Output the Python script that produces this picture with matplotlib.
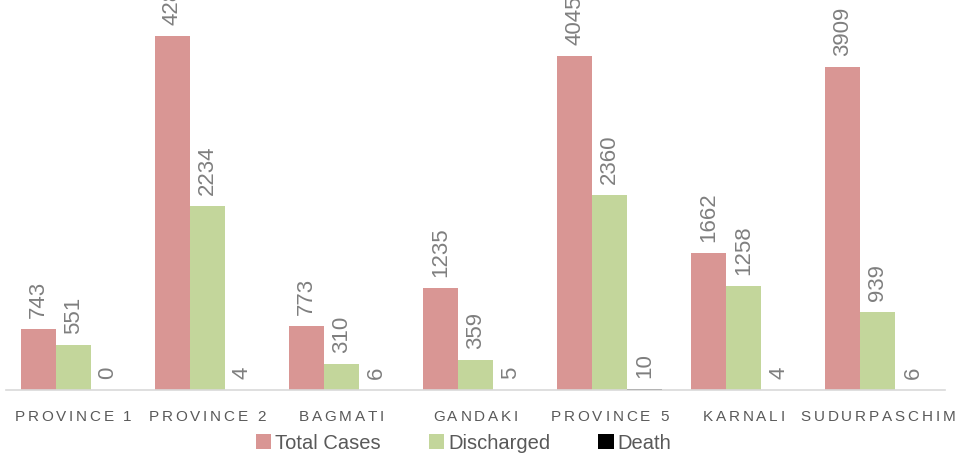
import numpy as np
import matplotlib
matplotlib.use("Agg")
import matplotlib.pyplot as plt
from matplotlib.font_manager import FontProperties

provinces = ["PROVINCE 1", "PROVINCE 2", "BAGMATI", "GANDAKI", "PROVINCE 5", "KARNALI", "SUDURPASCHIM"]
total_cases = [743, 4287, 773, 1235, 4045, 1662, 3909]
discharged = [551, 2234, 310, 359, 2360, 1258, 939]
death = [0, 4, 6, 5, 10, 4, 6]

series = [("Total Cases", total_cases, "#D99694"), ("Discharged", discharged, "#C3D69B"), ("Death", death, "#000000")]

plt.rcParams["font.family"] = ["Liberation Sans", "DejaVu Sans"]

fig = plt.figure(figsize=(9.56, 4.56), dpi=100)
ax = fig.add_axes([6 / 956, 1 - 391 / 456, 939 / 956, 391 / 456])

x = np.arange(len(provinces))
w = 0.261
for i, (name, vals, col) in enumerate(series):
    pos = x + (i - 1) * w
    ax.bar(pos, vals, w, color=col, label=name)
    for px, v in zip(pos, vals):
        ax.annotate(str(v), (px, v), xytext=(0, 12), textcoords="offset pixels",
                    rotation=90, ha="center", va="bottom", fontsize=16, color="#7F7F7F",
                    annotation_clip=False)

ax.set_xlim(-0.5, len(provinces) - 0.5)
ax.set_ylim(0, 4735)
for s in ["top", "right", "left"]:
    ax.spines[s].set_visible(False)
ax.spines["bottom"].set_color("#D9D9D9")
ax.spines["bottom"].set_linewidth(1.2)
ax.set_yticks([])
ax.set_xticks([])

# category labels with letter spacing (drawn char by char)
tick_prop = FontProperties(family="Liberation Sans", size=11)
renderer = fig.canvas.get_renderer()
spacing = 2.8
for xi, lab in zip(x, provinces):
    widths = [renderer.get_text_width_height_descent(c, tick_prop, ismath=False)[0] for c in lab]
    total = sum(widths) + spacing * (len(lab) - 1)
    off = -total / 2
    for c, cw in zip(lab, widths):
        ax.annotate(c, (xi, 0), xycoords=ax.get_xaxis_transform(), xytext=(off, -26),
                    textcoords="offset pixels", ha="left", va="center",
                    fontproperties=tick_prop, color="#595959", annotation_clip=False)
        off += cw + spacing

fig.legend(loc="center", bbox_to_anchor=(463.5 / 956, 1 - 444 / 456), ncol=3, frameon=False,
           handlelength=0.75, handleheight=0.75, handletextpad=0.2,
           columnspacing=2.4, labelcolor="#595959", borderpad=0,
           prop={"family": ["Liberation Sans", "DejaVu Sans"], "size": 14.5})

fig.savefig("out.png", dpi=100)
